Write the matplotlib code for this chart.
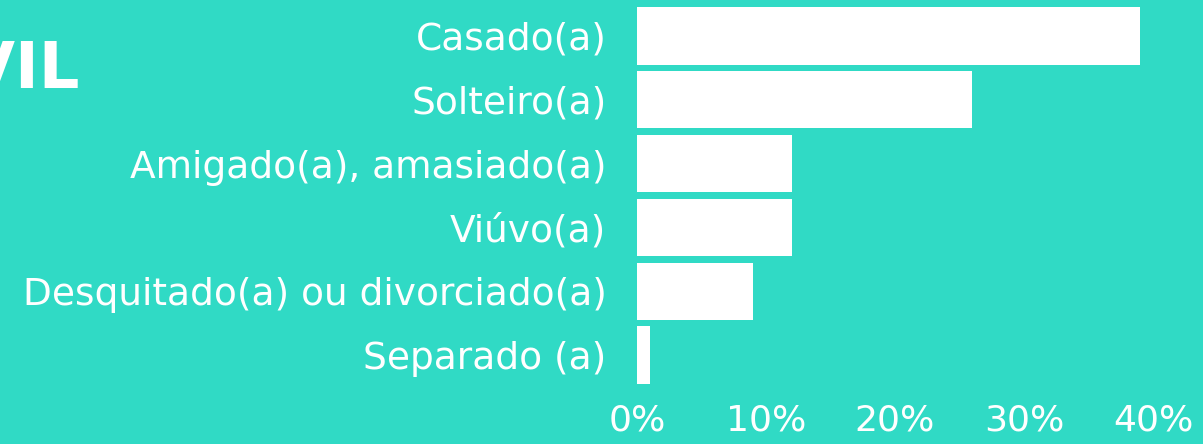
import matplotlib.pyplot as plt

categories = ['Casado(a)', 'Solteiro(a)', 'Amigado(a), amasiado(a)', 'Viúvo(a)',
              'Desquitado(a) ou divorciado(a)', 'Separado (a)']
values = [39, 26, 12, 12, 9, 1]
xticks = [0, 10, 20, 30, 40]
xtick_labels = ['0%', '10%', '20%', '30%', '40%']

bg = '#30DAC5'
W, H = 1203, 444

fig = plt.figure(figsize=(W / 100, H / 100), dpi=100, facecolor=bg)
ax = fig.add_axes([637 / W, (H - 387) / H, (W - 637) / W, 383 / H])
ax.set_facecolor(bg)

y = list(range(len(categories)))
ax.barh(y, values, height=0.9, color='white')
ax.set_ylim(len(categories) - 0.5, -0.5)
ax.set_xlim(0, (W - 637) / 12.9)

ax.set_yticks(y)
ax.set_yticklabels(categories, fontsize=27, color='white', family='DejaVu Sans')
ax.set_xticks(xticks)
ax.set_xticklabels(xtick_labels, fontsize=26, color='white', family='DejaVu Sans')
ax.tick_params(axis='y', length=0, pad=22)
ax.tick_params(axis='x', length=0, pad=12)
for s in ax.spines.values():
    s.set_visible(False)

# cut-off title at the left edge
fig.text(80 / W, 1 - 70 / H, 'CIVIL', ha='right', va='center', fontsize=46,
         fontweight='heavy', color='white', family='DejaVu Sans')

fig.savefig('out.png', dpi=100, facecolor=bg)
